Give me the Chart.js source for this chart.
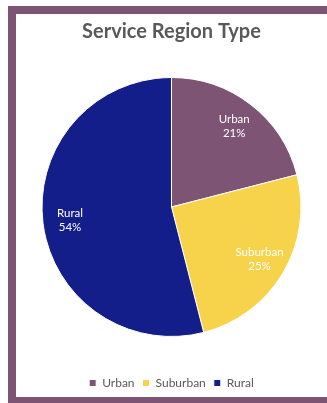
<!DOCTYPE html>
<html><head><meta charset="utf-8">
<script src="https://cdn.jsdelivr.net/npm/chart.js@4/dist/chart.umd.min.js"></script>
<style>
html,body{margin:0;padding:0;width:327px;height:403px;overflow:hidden;background:#fff;}
#frame{position:absolute;left:8px;top:6px;width:340px;height:383px;border:8px solid #7e5475;background:#fff;}
#wrap{position:absolute;left:16px;top:14px;width:311px;height:385px;}
</style></head>
<body>
<div id="frame"></div>
<div id="wrap"><canvas id="c"></canvas></div>
<script>
const chartTitle = "Service Region Type";
const categories = ["Urban", "Suburban", "Rural"];
const percentValues = [21, 25, 54];
const sliceColors = ["#7e5475", "#f6d34a", "#141e8b"];

const labelPlugin = {
  id: "sliceLabels",
  afterDatasetsDraw(chart) {
    const ctx = chart.ctx;
    const meta = chart.getDatasetMeta(0);
    ctx.save();
    ctx.fillStyle = "#ffffff";
    ctx.font = "11.5px Lato, 'Open Sans', sans-serif";
    ctx.textAlign = "center";
    ctx.textBaseline = "middle";
    meta.data.forEach((arc, i) => {
      const p = arc.getProps(["x","y","startAngle","endAngle","outerRadius"], true);
      const mid = (p.startAngle + p.endAngle) / 2;
      const r = p.outerRadius * 0.79;
      const x = p.x + Math.cos(mid) * r;
      const y = p.y + Math.sin(mid) * r;
      ctx.fillText(categories[i], x, y - 7);
      ctx.fillText(percentValues[i] + "%", x, y + 7);
    });
    ctx.restore();
  }
};

new Chart(document.getElementById("c"), {
  type: "pie",
  data: {
    labels: categories,
    datasets: [{
      data: percentValues,
      backgroundColor: sliceColors,
      borderColor: "#ffffff",
      borderWidth: 1
    }]
  },
  options: {
    responsive: true,
    maintainAspectRatio: false,
    animation: false,
    layout: { padding: { top: 0, bottom: 0, left: 0, right: 0 } },
    plugins: {
      title: {
        display: true,
        text: chartTitle,
        color: "#595959",
        font: { family: "Lato, 'Open Sans', sans-serif", size: 20, weight: "bold" },
        padding: { top: 6, bottom: 33 }
      },
      legend: {
        position: "bottom",
        title: { display: true, text: "", font: { size: 10 }, padding: { top: 10, bottom: 10 } },
        labels: {
          color: "#595959",
          font: { family: "Lato, 'Open Sans', sans-serif", size: 12 },
          boxWidth: 7,
          boxHeight: 7,
          padding: 8
        }
      },
      tooltip: { enabled: false }
    }
  },
  plugins: [labelPlugin]
});
</script>
</body></html>
